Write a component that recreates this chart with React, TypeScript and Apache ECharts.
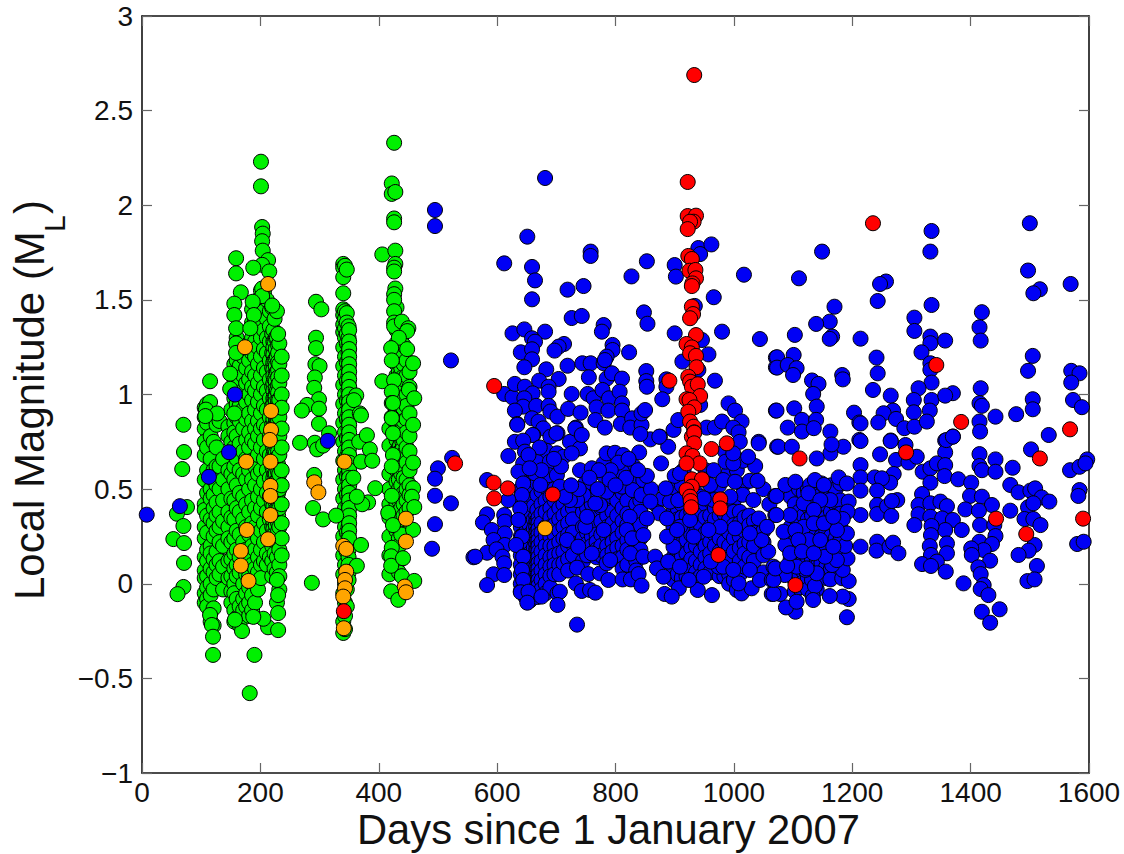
import React, { useEffect, useRef } from "react";
import * as echarts from "echarts";

type Col = [number, number[]];
type Pt = [number, number];

const xLabel = "Days since 1 January 2007";

const greenSparse: Pt[] = [
  [70,.84],[71,.696],[68,.606],[76,.405],[59,.37],[70,.305],[53,.236],[71,.215],[71,.11],[70,-.017],[60,-.055],
  [115,1.07],[115,.96],[108,.92],[127,.9],[107,.886],[115,-.165],[118,-.218],[120,-.28],[120,-.376],[190,-.376],[182,-.578],
  [159,1.72],[159,1.64],[167,1.54],[156,1.48],[156,1.42],[159,1.35],[159,1.27],[159,1.22],[149,1.11],[149,1.03],[156,.9],
  [201,2.23],[201,2.1],[203,1.885],[204,1.85],[203,1.81],[204,1.76],[213,1.71],[203,1.685],[188,1.67],[215,1.65],[203,1.56],[203,1.52],[187,1.49],[189,1.42],[228,1.44],[220,1.47],[183,1.35],[230,1.32],
  [228,.02],[230,-.06],[230,-.155],[213,-.23],[205,-.185],[230,-.245],[188,-.175],[169,-.25],[157,-.19],
  [294,1.49],[303,1.45],[294,1.3],[294,1.245],[293,1.16],[300,1.15],[292,1.09],[291,1.035],[299,.975],[279,.945],[270,.915],[299,.925],
  [267,.745],[299,.845],[316,.795],[292,.745],[296,.71],[306,.73],[291,.575],[289,.4],[306,.34],[328,.36],[287,.005],
  [362,.995],[358,.97],[368,.9],[370,.89],[367,.75],[380,.785],[385,.71],[370,.645],[389,.65],[394,.505],[382,.43],[372,.42],[370,.205],[363,.095],[357,.56],[363,.46],
  [426,2.33],[422,2.115],[422,2.06],[428,2.07],[426,1.93],[426,1.91],[406,1.74],[428,1.76],[428,1.69],[426,1.67],[426,1.65],[428,1.56],[426,1.53],[426,1.5],[426,1.44],[426,1.38],[426,1.36],[439,1.385],[450,1.35],[448,1.335],[434,1.3],[421,1.245],[448,1.24],[422,1.18],[458,1.165],[406,1.07],[426,1.075],[422,1.015],[451,1.025],[460,.98],[422,.955],[422,.88],
  [424,.955],[422,.875],[458,.84],[424,.795],[424,.68],[422,.62],[458,.64],[458,.505],[422,.465],[456,.46],[460,.405],[416,.375],[424,.31],[458,.285],[422,.19],[421,.145],[421,.095],[439,.04],[460,.015],[421,-.04],[433,-.085],[441,.135],
];

const greenColumns: Col[] = [
  [106,[.93,.88,.82,.75,.68,.55,.42,.39,.3,.24,.14,.07,.03,-.05,-.1]],
  [110,[.95,.85,.72,.6,.48,.36,.27,.18,.12,.04,-.02,-.08,-.12]],
  [116,[.9,.78,.66,.57,.5,.45,.34,.2,.16,.08,0,-.06,-.2]],
  [121,[.88,.75,.6,.55,.47,.4,.32,.25,.13,.06,-.03,-.13,-.22]],
  [126,[.84,.72,.62,.52,.43,.36,.28,.17,.1,.03]],
  [131,[.86,.62,.5,.38,.3,.22,.12,.05]],
  [137,[.66,.55,.44,.33,.2,.09,-.03]],
  [146,[.83,.78,.6,.5,.38,.3,.24,.12,.03]],
  [151,[.92,.75,.58,.45,.35,.22,.13,.04,-.04,-.1]],
  [156,[1.16,1.08,.98,.85,.8,.72,.62,.55,.44,.34,.24,.16,.08,0,-.05,-.14,-.2]],
  [160,[1.3,1.18,1.12,1.04,.95,.88,.78,.66,.52,.4,.28,.18,.1,.04,-.08,-.18]],
  [165,[1.25,1.15,1.08,.94,.86,.74,.6,.48,.38,.26,.14,.06,-.12,-.22]],
  [171,[1.2,1.1,1.02,.92,.82,.7,.58,.46,.34,.22,.1,0,-.08,-.14]],
  [176,[1.14,1.06,.96,.87,.76,.66,.55,.42,.3,.18,.05,-.05,-.12]],
  [181,[1.27,1.18,1.08,1,.9,.8,.72,.6,.5,.38,.26,.14,.04,-.02,-.1,-.17]],
  [186,[1.45,1.38,1.3,1.22,1.12,1.04,.97,.86,.76,.65,.55,.44,.32,.2,.1,0,-.06,-.14]],
  [191,[1.4,1.28,1.2,1.1,1.02,.92,.82,.74,.62,.52,.4,.3,.18,.08,.03,-.1]],
  [196,[1.5,1.35,1.25,1.16,1.06,.96,.86,.78,.68,.58,.46,.36,.24,.14,.06,-.03]],
  [201,[1.55,1.46,1.38,1.3,1.2,1.1,1,.9,.82,.72,.6,.5,.4,.28,.18,.1,.03]],
  [206,[1.54,1.44,1.34,1.24,1.14,1.04,.94,.84,.76,.66,.54,.44,.32,.22,.12]],
  [211,[1.5,1.4,1.3,1.22,1.12,1.02,.92,.82,.7,.6,.48,.38,.28,.16,.1]],
  [216,[1.44,1.36,1.28,1.18,1.08,.98,.88,.78,.68,.56,.46,.34,.24,.14]],
  [220,[1.46,1.32,1.22,1.14,1.04,.94,.84,.74,.62,.52,.42,.3,.2,.12,.04]],
  [222,[1.34,1.28,1.25,1.21,1.17,1.13,1.1,1.06,1.02,.98,.95,.91,.87,.83,.79,.75,.72,.68,.64,.6,.56,.53,.49,.45,.41,.37,.33,.29,.26]],
  [224,[1.4,1.28,1.18,1.08,.98,.9,.8,.7,.58,.48,.38,.26,.16,.08]],
  [226,[1.3,1.24,1.19,1.15,1.11,1.07,1.03,.99,.96,.92,.88,.85,.81,.77,.73,.69,.66,.62,.58,.54,.5,.47,.43,.39,.35,.31]],
  [228,[1.3,1.2,1.12,1.02,.94,.85,.76,.66,.54,.44,.34,.22,.14,.06,-.1]],
  [230,[1.26,1.22,1.17,1.13,1.09,1.05,1.01,.97,.93,.89,.86,.82,.78,.74,.7,.67,.63,.59,.55,.51,.48,.44,.4,.36,.32,.28]],
  [232,[1.27,1.16,1.06,.97,.88,.78,.68,.58,.5,.4,.3,.18,.1,.04,-.03]],
  [236,[1.2,1.1,1,.93,.82,.72,.6,.52,.42,.32,.24,.15]],
  [340,[1.69,1.67,1.62,1.535,1.45,1.42,1.37,1.33,1.25,1.15,1.05,.95,.85,.75,.65,.55,.45,.35,.25,.15,.05,-.05,-.2,-.26]],
  [343,[1.68,1.44,1.4,1.35,1.3,1.2,1.1,1,.9,.8,.7,.6,.5,.4,.3,.2,.1,0,-.1,-.17,-.24]],
  [346,[1.66,1.43,1.38,1.32,1.27,1.17,1.07,.97,.87,.77,.67,.57,.47,.37,.27,.17,.07,-.03,-.12]],
  [349,[1.36,1.3,1.26,1.22,1.18,1.14,1.1,1.06,1.02,.98,.94,.9,.86,.82,.78,.74,.7,.66,.62,.58,.54,.5,.46,.42,.38,.34,.3,.26,.22,.18,.14,.1,.06,.02]],
  [350,[1.34,1.28,1.24,1.2,1.16,1.12,1.08,1.04,1,.96,.92,.88,.84,.8,.76,.72,.68,.64,.6,.56,.52,.48,.44,.4,.36,.32,.28,.24]],
  [418,[.82,.73,.58,.5,.42,.35,.25,.15,.05]],
  [430,[1.46,1.34,1.27,1.22,1.16,1.1,1.02,.97,.9,.84,.76,.7,.6,.54,.48,.42,.36,.32,.28]],
  [434,[1.24,1.18,1.12,1.06,1,.94,.88,.8,.72,.66,.6,.55,.5,.44,.38,.3,.24,.2,.12,.06]],
  [436,[1.1,1.07,1.03,1,.97,.93,.9,.87,.83,.8,.77,.73,.7,.67,.63,.6]],
  [438,[1.3,1.2,1.14,1.08,1.03,.96,.9,.84,.78,.7,.64,.58,.52,.46,.4,.34,.26]],
  [440,[1.09,1.05,1.02,.98,.95,.91,.88,.85,.81,.78,.75,.71,.68,.65,.61]],
  [442,[1.26,1.16,1.08,.98,.92,.86,.76,.68,.62,.56,.48,.42,.36]],
  [447,[1.18,1.1,1,.94,.87,.8,.72,.64,.55,.5,.44,.38]],
  [452,[1.12,1.04,.9,.78,.7,.6,.52,.47,.4]],
];

const blueSparse: Pt[] = [
  [8,.365],[64,.41],[147,.695],[113,.565],[157,1],[314,.755],[495,1.975],[495,1.89],[522,1.18],[524,.665],[500,.61],[495,.555],[495,.465],[522,.425],[495,.315],[490,.185],[560,.14],
  [681,2.144],[651,1.834],[612,1.693],[659,1.674],[664,1.603],[659,1.503],[719,1.554],[746,1.573],[758,1.755],[758,1.732],[827,1.624],[853,1.704],[900,1.684],[902,1.623],[940,1.774],[943,1.742],[962,1.793],[1017,1.633],[966,1.514],[934,1.468],
  [726,1.404],[743,1.415],[848,1.434],[854,1.374],[780,1.367],[777,1.332],[900,1.323],[980,1.332],[1044,1.293],[626,1.323],[646,1.344],[659,1.297],[681,1.332],[664,1.279],[640,1.223],[659,1.239],[713,1.267],[704,1.253],[697,1.232],[795,1.262],[795,1.235],[785,1.2],[823,1.223],[946,1.288],[957,1.212],[913,1.174],[1071,1.195],[1071,1.144],
  [659,1.186],[646,1.144],[683,1.133],[704,1.082],[719,1.152],[744,1.165],[758,1.165],[780,1.165],[782,1.182],[852,1.124],[852,1.071],[853,1.041],[755,1.091],[785,1.084],[794,1.112],[811,1.084],[886,1.08],[886,1.041],[968,1.073],[940,1.13],[879,.975],
  [612,1.003],[626,.985],[630,1.056],[647,1.041],[671,1.073],[687,1.041],[687,1.015],[660,1.006],[646,.98],[644,.936],[630,.915],[666,.94],[687,.94],[690,.91],[702,.883],[726,1.003],[753,1.003],[763,.98],[778,1.024],[789,.98],[807,1.015],[768,.932],[788,.915],[811,.953],[811,.915],[720,.924],[741,.904],[659,.874],[634,.844],[670,.857],[678,.821],
  [766,.865],[782,.825],[809,.844],[828,.874],[825,.825],[844,.839],[844,.9],[850,.918],[733,.825],[702,.795],[661,.786],[630,.75],[875,.777],[898,.813],[906,.865],[943,.945],[954,.825],[968,.825],[980,.857],[991,.953],[1002,.915],[1013,.857],[999,.825],[1008,.8],[1071,.915],[1042,.75],
  [634,.84],[660,.786],[644,.756],[619,.675],[647,.698],[690,.777],[700,.795],[723,.75],[740,.715],[732,.82],[743,.786],[683,.703],[667,.645],[644,.636],[636,.592],[701,.689],[712,.671],[726,.689],[689,.645],[740,.6],[760,.61],[780,.636],[785,.689],[799,.692],[813,.68],[840,.694],[830,.622],[811,.592],[780,.574],[877,.636],[889,.724],[859,.763],[874,.777],[842,.791],
  [749,.53],[746,.469],[644,.53],[642,.469],[687,.574],[701,.574],[664,.583],[673,.522],[706,.513],[811,.513],[830,.557],[847,.548],[829,.495],[844,.469],[785,.486],[774,.416],[766,.425],[735,.442],[723,.442],[715,.46],
  [672,.72],[653,.68],[708,.62],[675,.6],[696,.66],[655,.61],[805,.64],[792,.6],[818,.56],[790,.55],[800,.52],[822,.66],[772,.6],[756,.56],[738,.5],[725,.52],[770,.5],[860,.5],[853,.57],[838,.6],[868,.42],[880,.45],[900,.5],[912,.52],[900,.57],[915,.6],[952,.6],[950,.55],[975,.52],[990,.58],[1005,.6],[1015,.65],[1015,.52],[1015,.47],[1050,.5],[1060,.42],[1010,.75],[985,.7],
  [583,.548],[619,.442],[583,.367],[576,.324],[612,.363],[613,.328],[591,.284],[613,.266],[594,.231],[613,.205],[583,.164],[563,.143],[599,.182],[609,.143],[612,.108],[594,.05],[612,.046],[583,-.007],
  [639,.398],[636,.337],[642,.249],[632,.205],[644,.143],[642,.073],[644,.02],[640,-.045],[653,-.042],[651,-.1],[675,-.068],[702,-.05],[706,-.042],[702,-.112],[735,-.216],
  [733,.002],[743,-.038],[757,-.033],[766,-.047],[735,.085],[754,.051],[774,.055],[788,.02],[812,.023],[826,.023],[839,.051],[844,-.01],[785,.108],[791,.125],
  [874,.372],[887,.345],[853,.345],[859,.434],[824,.354],[819,.284],[828,.24],[847,.257],[780,.284],[749,.301],[752,.354],[718,.231],[737,.196],[760,.16],[825,.16],[847,.143],[867,.143],[870,.081],[881,.037],[889,.117],[909,.09],[898,.196],[887,.249],[909,.301],[926,.337],[892,.434],[906,.442],
  [885,.504],[909,.583],[960,.522],[966,.6],[982,.548],[1002,.539],[994,.46],[966,.442],[949,.451],[1033,.442],[1070,.464],[1070,.363],[1027,.544],[1040,.544],[1036,.622],[1024,.671],[1042,.742],[1073,.724],[986,.645],[999,.636],[999,.689],
  [963,-.06],[939,-.033],[907,-.024],[883,-.054],[895,-.068],[1005,-.033],[1013,-.051],[1030,-.024],[1064,-.054],[1008,.002],[949,.037],[924,.02],[974,.09],[982,.09],[961,.117],[999,.073],[1027,.073],[1044,.02],[1067,.09],[1064,.02],[1058,.17],[1047,.231],[1027,.266],[1042,.345],[1056,.301],[1002,.293],[977,.301],[957,.284],[932,.249],[904,.284],
  [1149,1.755],[1110,1.614],[1334,1.864],[1332,1.755],[1500,1.905],[1497,1.655],[1517,1.556],[1506,1.535],[1569,1.584],[1257,1.597],[1247,1.584],[1243,1.494],[1334,1.473],[1170,1.464],[1419,1.435],[1305,1.406],[1415,1.355],[1305,1.336],[1162,1.385],[1139,1.373],[1103,1.315],[1166,1.306],[1162,1.294],[1214,1.295],[1417,1.285],[1332,1.306],[1332,1.271],[1357,1.285],[1317,1.223],[1505,1.204],[1241,1.195],[1101,1.209],[1073,1.197],[1073,1.142],[1091,1.156],[1106,1.139],[1100,1.103],[1332,1.165],[1332,1.13],[1497,1.125],[1243,1.112],[1570,1.125],[1584,1.112],[1570,1.063],[1183,1.103],[1184,1.08],[1132,1.074],[1143,1.056],[1334,1.063],[1312,1.033],[1417,1.033],[1134,1.003],[1235,1.024],[1265,.994],[1304,.971],[1334,.971],[1370,1.007],[1357,.994],[1505,.975],[1573,.971],[1588,.933],[1415,.954],[1419,.94],[1140,.936],[1102,.927],[1072,.915],[1304,.906],[1331,.915],[1269,.915],[1253,.901],[1203,.904],[1505,.922],[1477,.896],[1442,.883],[1415,.857],[1416,.804],[1115,.866],[1139,.866],[1212,.852],[1244,.852],[1274,.871],[1288,.822],[1305,.83],[1326,.857],[1091,.825],[1115,.804],[1135,.822],[1163,.804],[1370,.778],[1532,.786],[1212,.76],[1265,.757],[1357,.757],
  [1214,.847],[1214,.754],[1265,.754],[1247,.684],[1075,.724],[1098,.724],[1185,.724],[1163,.689],[1140,.662],[1165,.736],[1274,.654],[1295,.641],[1290,.733],[1309,.671],[1357,.694],[1359,.759],[1370,.777],[1415,.685],[1415,.622],[1419,.6],[1442,.657],[1442,.592],[1471,.613],[1502,.71],[1568,.6],[1584,.618],[1597,.657],[1594,.636],
  [1214,.627],[1214,.562],[1238,.562],[1270,.58],[1264,.534],[1250,.557],[1319,.592],[1332,.61],[1343,.636],[1357,.627],[1356,.569],[1379,.552],[1401,.534],[1332,.534],[1467,.522],[1481,.483],[1501,.492],[1509,.504],[1520,.456],[1533,.434],[1399,.464],[1419,.46],[1436,.416],[1467,.386],[1391,.393],[1414,.386],[1497,.404],[1506,.425],[1491,.342],[1506,.342],[1518,.31],[1584,.495],[1582,.464],
  [1214,.492],[1242,.492],[1242,.416],[1242,.368],[1259,.41],[1276,.442],[1267,.437],[1266,.358],[1214,.363],[1318,.474],[1312,.416],[1332,.425],[1349,.434],[1360,.41],[1312,.367],[1305,.31],[1332,.354],[1352,.345],[1370,.337],[1385,.284],[1357,.284],[1334,.305],[1416,.31],[1440,.31],[1442,.252],[1415,.222],[1436,.21],[1422,.178],[1401,.187],[1402,.152],[1433,.122],[1508,.205],[1498,.175],[1481,.152],[1580,.21],[1591,.222],[1512,.094],[1496,.014],[1508,.023],
  [1214,.196],[1242,.222],[1241,.175],[1263,.196],[1269,.217],[1278,.161],[1333,.257],[1331,.199],[1360,.213],[1360,.161],[1333,.152],[1343,.117],[1318,.104],[1333,.094],[1358,.064],[1388,.002],[1413,.087],[1417,.051],[1422,-.007],[1417,-.028],[1430,-.06],[1419,-.148],[1449,-.135],[1433,-.206],
  [1191,-.177],[1194,-.081],[1184,-.068],[1162,-.065],[1133,-.065],[1137,-.012],[1134,-.086],[1104,-.148],[1088,-.125],[1106,-.095],[1078,-.054],[1067,-.054],[1163,.023],[1183,.029],[1194,.014],[1184,.073],[1166,.099],[1192,.134],[1188,.2],[1174,.125],[1154,.143],[1140,.055],[1121,.073],[1106,.09],[1086,.046],[1067,.02],[1070,.081],[1090,.094],[1087,.205],[1084,.275],[1095,.363],[1072,.363],[1072,.464],[1087,.522],[1104,.539],[1118,.425],[1129,.522],[1126,.478],[1137,.548],[1152,.522],[1177,.562],[1191,.53],[1194,.434],[1192,.381],[1184,.342],[1191,.266],[1174,.284],[1163,.442],[1146,.442],[1135,.39],[1118,.301],[1104,.284],[1135,.319],[1152,.319],[1168,.354],[1126,.231],[1109,.231],[1095,.161],[1115,.17],[1135,.161],[1146,.231],[1168,.196],[1123,.081],
];

const blueColumns: Col[] = [
  [640,[.5,.44,.4,.35,.3,.25,.2,.15,.1,.05,0,-.04]],
  [648,[.6,.52,.46,.38,.32,.27,.22,.17,.12,.07,.02,-.03,-.07]],
  [655,[.66,.55,.48,.43,.36,.31,.26,.21,.16,.11,.06,.01,-.04,-.09]],
  [662,[.58,.5,.45,.41,.34,.29,.24,.19,.14,.09,.04,-.01,-.06]],
  [666,[.36,.33,.3,.27,.24,.21,.18,.15,.12,.09,.06,.03,0,-.03]],
  [668,[.62,.53,.47,.39,.33,.28,.23,.18,.13,.08,.03,-.02,-.07]],
  [670,[.35,.32,.29,.26,.23,.2,.17,.14,.11,.08,.05,.02,-.01]],
  [675,[.56,.49,.42,.37,.32,.27,.22,.17,.12,.07,.02,-.03]],
  [682,[.6,.51,.44,.38,.3,.25,.2,.15,.1,.05,0,-.05]],
  [690,[.55,.46,.4,.35,.3,.25,.2,.14,.09,.04,-.02]],
  [697,[.5,.44,.37,.31,.26,.2,.15,.1,.05]],
  [705,[.48,.4,.34,.28,.22,.16,.1,.05]],
  [712,[.42,.36,.3,.24,.17,.11]],
  [720,[.45,.38,.32,.26,.2,.13,.07]],
  [728,[.4,.34,.27,.21,.15]],
  [745,[.38,.3,.24,.18,.12]],
  [752,[.5,.44,.4,.27,.21,.15]],
  [760,[.48,.42,.34,.29,.25,.2]],
  [768,[.36,.31,.26,.22,.18,.14]],
  [776,[.4,.33,.26,.2,.15]],
  [786,[.42,.36,.3,.25,.2,.15]],
  [795,[.46,.38,.32,.27,.22,.17]],
  [803,[.44,.36,.29,.24,.19,.13]],
  [812,[.48,.4,.33,.27,.2,.14,.08]],
  [820,[.44,.37,.31,.23,.18,.1]],
  [835,[.5,.42,.34,.28,.21,.12,.07]],
  [842,[.44,.38,.31,.24,.18]],
  [898,[.38,.3,.24,.14,.07,.02]],
  [905,[.4,.34,.25,.18,.12,.05]],
  [912,[.42,.35,.27,.21,.14,.08,.03]],
  [920,[.45,.36,.3,.23,.16,.1,.04]],
  [928,[.46,.38,.32,.26,.19,.13,.07]],
  [936,[.48,.4,.33,.27,.2,.12,.06,.02]],
  [944,[.46,.38,.31,.24,.17,.1,.04]],
  [952,[.42,.35,.27,.2,.14,.08]],
  [960,[.44,.36,.3,.22,.16,.06]],
  [968,[.5,.4,.34,.26,.2,.12]],
  [976,[.42,.36,.24,.17,.04]],
  [984,[.44,.37,.3,.22,.15,.04]],
  [992,[.42,.34,.27,.2,.14,.05,0]],
  [1000,[.44,.38,.31,.24,.17,.02]],
  [1010,[.38,.32,.25,.19,.12,.05]],
  [1018,[.35,.28,.21,.16,.09]],
  [1026,[.36,.31,.22,.14]],
  [1034,[.33,.27,.2,.12]],
  [1050,[.28,.22,.15,.06]],
  [1096,[.46,.3,.25,.2,.13,.06]],
  [1103,[.42,.35,.22,.15,.08,.02,-.04]],
  [1110,[.5,.38,.32,.26,.19,.12,.05,-.02]],
  [1118,[.48,.36,.25,.2,.14,.06,.01]],
  [1125,[.5,.41,.34,.27,.17,.12,.03,-.03]],
  [1132,[.47,.36,.29,.23,.13,.08,.02]],
  [1140,[.5,.42,.35,.27,.2,.12,.09,-.03]],
  [1148,[.53,.38,.3,.25,.18,.11,.04]],
  [1156,[.5,.41,.35,.27,.2,.09,.03]],
  [1164,[.52,.38,.31,.25,.15,.08]],
  [1172,[.5,.42,.36,.24,.19,.1,.05]],
  [1180,[.53,.44,.37,.3,.23,.16]],
];

const orangeX = [213,174,218,218,216,176,217,217,217,217,177,213,167,167,180,291,298,342,340,345,345,343,343,340,341,446,446,444,446,681];
const orangeY = [1.584,1.25,.913,.812,.76,.645,.645,.517,.464,.363,.284,.235,.173,.096,.015,.536,.483,.645,.2,.184,.064,.02,-.024,-.068,-.235,.344,.223,-.015,-.045,.293];

const redPoints: Pt[] = [
  [933,2.688],[922,2.123],[922,1.943],[936,1.945],[932,1.913],[926,1.913],[922,1.874],[923,1.732],[929,1.716],[925,1.654],[935,1.658],[936,1.614],[930,1.587],[929,1.573],[929,1.464],[931,1.425],[926,1.403],[936,1.314],[920,1.267],[929,1.249],[926,1.218],[936,1.204],[937,1.144],[923,1.094],[926,1.068],[929,1.041],[939,1.054],[943,.992],[920,.975],[925,.971],[933,.932],[923,.909],[926,.857],[932,.83],[933,.8],[929,.777],
  [933,.798],[933,.742],[920,.689],[930,.675],[942,.636],[920,.636],[929,.552],[946,.552],[929,.513],[920,.495],[926,.46],[927,.437],[928,.404],[962,.712],[988,.742],[977,.446],[977,.398],[974,.152],
  [891,1.073],[595,1.045],[694,.472],[594,.534],[618,.504],[595,.451],[529,.636],[341,-.145],
  [1235,1.905],[1342,1.156],[1384,.855],[1568,.816],[1111,.662],[1291,.694],[1517,.662],[1443,.344],[1494,.263],[1590,.344],[1104,-.007],
];

const expand = (cols: Col[]): Pt[] => cols.flatMap(([x, ys]) => ys.map((y): Pt => [x, y]));
const markerSize = 15;

const scatter = (name: string, data: number[][], color: string) => ({
  name,
  type: "scatter",
  data,
  symbol: "circle",
  symbolSize: markerSize,
  itemStyle: { color, borderColor: "#000", borderWidth: 1, opacity: 1 },
  emphasis: { disabled: true },
  silent: true,
});

export default function App() {
  const ref = useRef<HTMLDivElement>(null);
  useEffect(() => {
    const chart = echarts.init(ref.current!, null, { renderer: "svg" });
    const font = "'Liberation Sans', Arial, sans-serif";
    const frame = { lineStyle: { color: "#111", width: 1.6 } };
    const ticks = { inside: true, length: 10, lineStyle: { color: "#666", width: 1.2 } };
    const yTitle = (text: string, x: number, y: number, fontSize: number) => ({
      type: "text", x, y, rotation: Math.PI / 2,
      style: { text, fontSize, fontFamily: font, fill: "#111" },
    });
    chart.setOption({
      animation: false,
      grid: { left: 142, right: 35, top: 16, bottom: 81, containLabel: false, outerBoundsMode: "none" },
      xAxis: [
        {
          type: "value", min: 0, max: 1600, interval: 200, position: "bottom",
          axisLine: { show: true, onZero: false, ...frame }, axisTick: { show: true, ...ticks }, splitLine: { show: false },
          axisLabel: { color: "#111", fontSize: 28, fontFamily: font, margin: 5, formatter: (v: number) => String(v) },
        },
        {
          type: "value", min: 0, max: 1600, interval: 200, position: "top",
          axisLine: { show: true, onZero: false, ...frame }, axisTick: { show: true, ...ticks }, splitLine: { show: false }, axisLabel: { show: false },
        },
      ],
      yAxis: [
        {
          type: "value", min: -1, max: 3, interval: 0.5, position: "left",
          axisLine: { show: true, onZero: false, ...frame }, axisTick: { show: true, ...ticks }, splitLine: { show: false },
          axisLabel: { color: "#111", fontSize: 28, fontFamily: font, margin: 9, formatter: (v: number) => String(v).replace("-", "\u2212") },
        },
        {
          type: "value", min: -1, max: 3, interval: 0.5, position: "right",
          axisLine: { show: true, onZero: false, ...frame }, axisTick: { show: true, ...ticks }, splitLine: { show: false }, axisLabel: { show: false },
        },
      ],
      series: [
        scatter("Green", [...expand(greenColumns), ...greenSparse], "#00f000"),
        scatter("Blue", [...expand(blueColumns), ...blueSparse], "#0000f5"),
        scatter("Orange", orangeX.map((x, i) => [x, orangeY[i]]), "#ffa500"),
        scatter("Red", redPoints, "#ff0000"),
      ],
      graphic: [
        {
          type: "text", left: 357, top: 808,
          style: { text: xLabel, fontSize: 41.7, lineHeight: 40, fontFamily: font, fill: "#111" },
        },
        yTitle("Local Magnitude (M", 8.5, 600, 42),
        yTitle("L", 39.5, 232, 30),
        yTitle(")", 8.5, 214, 42),
      ],
    });
    return () => chart.dispose();
  }, []);
  return <div ref={ref} style={{ position: "fixed", left: 0, top: 0, width: 1124, height: 854, background: "#fff" }} />;
}
